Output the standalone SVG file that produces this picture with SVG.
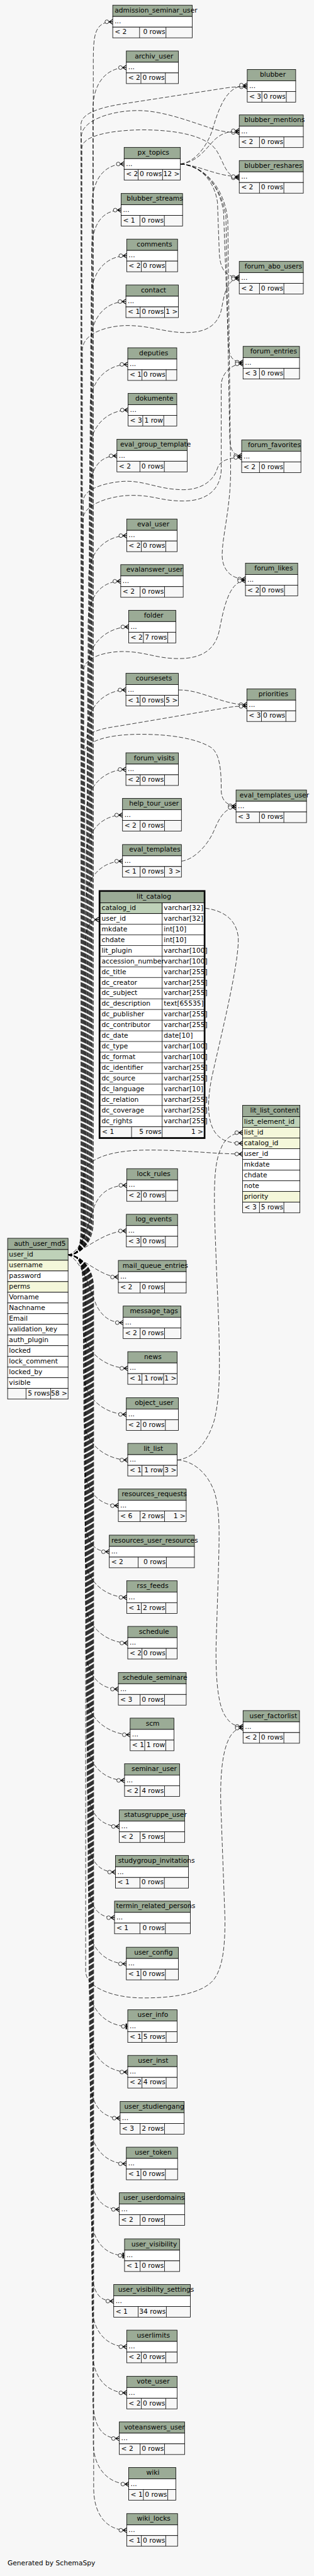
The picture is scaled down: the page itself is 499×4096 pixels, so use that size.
<svg xmlns="http://www.w3.org/2000/svg" width="499" height="4096" viewBox="0 0 499 4096">
<style>
text{font-family:"DejaVu Sans","Liberation Sans",sans-serif;font-size:14.3px;fill:#000}
.h{fill:#9bab96;stroke:#000;stroke-width:1.1}
.r{fill:#fff;stroke:#000;stroke-width:1.1}
.f{fill:#f7f7f7;stroke:#000;stroke-width:1.1}
.pk{fill:#bed1b8;stroke:#000;stroke-width:1.1}
.ix{fill:#f4f7da;stroke:#000;stroke-width:1.1}
.s{stroke:#000;stroke-width:1.1;fill:none}
.e{text-anchor:end}
.c{fill:none;stroke:#000;stroke-width:1;stroke-dasharray:9 4;marker-end:url(#cr)}
.t{fill:none;stroke:#000;stroke-width:1;stroke-dasharray:9 4;marker-end:url(#te)}
</style>
<defs>
<marker id="cr" markerUnits="userSpaceOnUse" orient="auto" refX="0" refY="0" markerWidth="30" markerHeight="20" viewBox="-20 -10 30 20" overflow="visible">
<path d="M-8,0L0,-5M-8,0L0,5M-8,0L0,0" fill="none" stroke="#000" stroke-width="1.5"/>
<circle cx="-12.5" cy="0" r="4" fill="#f7f7f7" stroke="#000" stroke-width="1"/>
</marker>
<marker id="te" markerUnits="userSpaceOnUse" orient="auto" refX="0" refY="0" markerWidth="30" markerHeight="20" viewBox="-20 -10 30 20" overflow="visible">
<rect x="-4.5" y="-6" width="3" height="12" fill="#000"/>
<circle cx="-9.5" cy="0" r="4" fill="#f7f7f7" stroke="#000" stroke-width="1"/>
</marker>
</defs>
<rect width="499" height="4096" fill="#f7f7f7"/>
<g transform="scale(0.748)">
<g id="connectors">
<path class="c" d="M144.6,2667.7C170,2667.7 198.2,2642.7 198.2,2597.7L198.2,136.4C198.2,76.4 199.5,46.35 239.5,46.35"/>
<path class="c" d="M144.6,2667.7C170,2667.7 197.3,2642.7 197.3,2597.7L197.3,233.7C197.3,173.7 228.4,143.65 268.4,143.65"/>
<path class="c" d="M144.6,2667.7C170,2667.7 195.4,2642.7 195.4,2597.7L195.4,438.7C195.4,378.7 223.7,348.65 263.7,348.65"/>
<path class="c" d="M144.6,2667.7C170,2667.7 194.5,2642.7 194.5,2597.7L194.5,536.7C194.5,476.7 217.3,446.65 257.3,446.65"/>
<path class="c" d="M144.6,2667.7C170,2667.7 193.6,2642.7 193.6,2597.7L193.6,633.7C193.6,573.7 229.2,543.65 269.2,543.65"/>
<path class="c" d="M144.6,2667.7C170,2667.7 192.7,2642.7 192.7,2597.7L192.7,731.1C192.7,671.1 227.5,641.05 267.5,641.05"/>
<path class="c" d="M144.6,2667.7C170,2667.7 191.5,2642.7 191.5,2597.7L191.5,864.7C191.5,804.7 231.4,774.65 271.4,774.65"/>
<path class="c" d="M144.6,2667.7C170,2667.7 190.6,2642.7 190.6,2597.7L190.6,961.7C190.6,901.7 232.2,871.65 272.2,871.65"/>
<path class="c" d="M144.6,2667.7C170,2667.7 189.7,2642.7 189.7,2597.7L189.7,1059.1C189.7,999.1 208.4,969.05 248.4,969.05"/>
<path class="c" d="M144.6,2667.7C170,2667.7 188.1,2642.7 188.1,2597.7L188.1,1228.7C188.1,1168.7 229.2,1138.65 269.2,1138.65"/>
<path class="c" d="M144.6,2667.7C170,2667.7 187.2,2642.7 187.2,2597.7L187.2,1325.7C187.2,1265.7 216.5,1235.65 256.5,1235.65"/>
<path class="c" d="M144.6,2667.7C170,2667.7 186.3,2642.7 186.3,2597.7L186.3,1422.7C186.3,1362.7 233.5,1332.65 273.5,1332.65"/>
<path class="c" d="M144.6,2667.7C170,2667.7 185.1,2642.7 185.1,2597.7L185.1,1556.7C185.1,1496.7 227.5,1466.65 267.5,1466.65"/>
<path class="c" d="M144.6,2667.7C170,2667.7 183.5,2642.7 183.5,2597.7L183.5,1725.7C183.5,1665.7 227.5,1635.65 267.5,1635.65"/>
<path class="c" d="M144.6,2667.7C170,2667.7 182.6,2642.7 182.6,2597.7L182.6,1822.7C182.6,1762.7 220.3,1732.65 260.3,1732.65"/>
<path class="c" d="M144.6,2667.7C170,2667.7 181.7,2642.7 181.7,2597.7L181.7,1920.7C181.7,1860.7 220.3,1830.65 260.3,1830.65"/>
<path class="c" d="M144.6,2667.7C170,2667.7 180.6,2642.7 180.6,2597.7L180.6,2010C180.6,1975 190,1955 209.7,1955"/>
<path class="c" d="M144.6,2667.7C175,2660 188,2600 200,2565C212,2535 235,2519.65 269.2,2519.65"/>
<path class="c" d="M144.6,2667.7C180,2660 220,2616.65 268.4,2616.65"/>
<path class="c" d="M144.6,2667.7C180,2675 215,2714.65 251.4,2714.65"/>
<path class="c" d="M144.6,2667.7C175,2680 190,2740 205,2775C218,2800 235,2811.65 261.6,2811.65"/>
<path class="c" d="M144.6,2667.7C170,2667.7 176.2,2692.7 176.2,2737.7L176.2,2818.7C176.2,2878.7 231.4,2908.65 271.4,2908.65"/>
<path class="c" d="M144.6,2667.7C170,2667.7 177.1,2692.7 177.1,2737.7L177.1,2916.7C177.1,2976.7 228.4,3006.65 268.4,3006.65"/>
<path class="c" d="M144.6,2667.7C170,2667.7 178,2692.7 178,2737.7L178,3013.7C178,3073.7 231.4,3103.65 271.4,3103.65"/>
<path class="c" d="M144.6,2667.7C170,2667.7 178.9,2692.7 178.9,2737.7L178.9,3110.7C178.9,3170.7 211.4,3200.65 251.4,3200.65"/>
<path class="c" d="M144.6,2667.7C170,2667.7 179.8,2692.7 179.8,2737.7L179.8,3208.7C179.8,3268.7 192.2,3298.65 232.2,3298.65"/>
<path class="c" d="M144.6,2667.7C170,2667.7 180.7,2692.7 180.7,2737.7L180.7,3305.7C180.7,3365.7 229.2,3395.65 269.2,3395.65"/>
<path class="c" d="M144.6,2667.7C170,2667.7 181.6,2692.7 181.6,2737.7L181.6,3402.7C181.6,3462.7 231.4,3492.65 271.4,3492.65"/>
<path class="c" d="M144.6,2667.7C170,2667.7 182.5,2692.7 182.5,2737.7L182.5,3500.7C182.5,3560.7 211.4,3590.65 251.4,3590.65"/>
<path class="c" d="M144.6,2667.7C170,2667.7 183.4,2692.7 183.4,2737.7L183.4,3597.7C183.4,3657.7 236.5,3687.65 276.5,3687.65"/>
<path class="c" d="M144.6,2667.7C170,2667.7 184.3,2692.7 184.3,2737.7L184.3,3694.7C184.3,3754.7 224.6,3784.65 264.6,3784.65"/>
<path class="c" d="M144.6,2667.7C170,2667.7 185.2,2692.7 185.2,2737.7L185.2,3792.7C185.2,3852.7 213.5,3882.65 253.5,3882.65"/>
<path class="c" d="M144.6,2667.7C170,2667.7 186.1,2692.7 186.1,2737.7L186.1,3889.7C186.1,3949.7 205.4,3979.65 245.4,3979.65"/>
<path class="c" d="M144.6,2667.7C170,2667.7 187,2692.7 187,2737.7L187,3986.7C187,4046.7 203.3,4076.65 243.3,4076.65"/>
<path class="c" d="M144.6,2667.7C170,2667.7 187.9,2692.7 187.9,2737.7L187.9,4084.7C187.9,4144.7 228.4,4174.65 268.4,4174.65"/>
<path class="t" d="M144.6,2667.7C170,2667.7 189.1,2692.7 189.1,2737.7L189.1,4217.7C189.1,4277.7 231.4,4307.65 271.4,4307.65"/>
<path class="c" d="M144.6,2667.7C170,2667.7 190,2692.7 190,2737.7L190,4314.7C190,4374.7 231.4,4404.65 271.4,4404.65"/>
<path class="c" d="M144.6,2667.7C170,2667.7 190.9,2692.7 190.9,2737.7L190.9,4412.7C190.9,4472.7 215.2,4502.65 255.2,4502.65"/>
<path class="c" d="M144.6,2667.7C170,2667.7 191.8,2692.7 191.8,2737.7L191.8,4509.7C191.8,4569.7 228.4,4599.65 268.4,4599.65"/>
<path class="c" d="M144.6,2667.7C170,2667.7 192.7,2692.7 192.7,2737.7L192.7,4606.7C192.7,4666.7 213.5,4696.65 253.5,4696.65"/>
<path class="t" d="M144.6,2667.7C170,2667.7 193.6,2692.7 193.6,2737.7L193.6,4704.7C193.6,4764.7 224.6,4794.65 264.6,4794.65"/>
<path class="c" d="M144.6,2667.7C170,2667.7 194.5,2692.7 194.5,2737.7L194.5,4801.7C194.5,4861.7 201.6,4891.65 241.6,4891.65"/>
<path class="c" d="M144.6,2667.7C170,2667.7 195.4,2692.7 195.4,2737.7L195.4,4898.7C195.4,4958.7 229.2,4988.65 269.2,4988.65"/>
<path class="c" d="M144.6,2667.7C170,2667.7 196.3,2692.7 196.3,2737.7L196.3,4996.7C196.3,5056.7 229.2,5086.65 269.2,5086.65"/>
<path class="c" d="M144.6,2667.7C170,2667.7 197.2,2692.7 197.2,2737.7L197.2,5093.7C197.2,5153.7 213.5,5183.65 253.5,5183.65"/>
<path class="c" d="M144.6,2667.7C170,2667.7 198.1,2692.7 198.1,2737.7L198.1,5190.7C198.1,5250.7 233.5,5280.65 273.5,5280.65"/>
<path class="c" d="M144.6,2667.7C170,2667.7 199,2692.7 199,2737.7L199,5288.7C199,5348.7 229.2,5378.65 269.2,5378.65"/>
<path class="c" d="M144.6,2667.7C170,2667.7 172,2642.7 172,2597.7L172,265C172,240 215,228 260,221L480,187C500,184 510,184.5 525.3,184.5"/>
<path class="c" d="M383.2,348.65C410,345 435,320 450,280C465,230 480,181 525.3,181"/>
<path class="c" d="M144.6,2667.7C170,2667.7 173,2642.7 173,2597.7L173,290C173,258 230,236 290,235C350,234 420,265 460,276C480,281 490,281.5 508.3,281.5"/>
<path class="c" d="M383.2,348.65C420,345 438,315 455,298C468,285 485,278 508.3,278"/>
<path class="c" d="M144.6,2667.7C170,2667.7 174,2642.7 174,2597.7L174,315C174,287 240,277 300,276C380,276 440,290 460,320C476,345 480,378 508.3,378"/>
<path class="c" d="M383.2,348.65C420,350 460,375 508.3,375.5"/>
<path class="c" d="M383.2,348.65C420,350 455,380 462,430L466,540C468,570 478,589.5 508.3,589.5"/>
<path class="c" d="M144.6,2667.7C170,2667.7 175,2642.7 175,2597.7L175,745C175,705 235,692 270,692C320,692 350,707 395,707C440,707 462,690 470,660C476,630 480,592.5 508.3,592.5"/>
<path class="c" d="M383.2,348.65C430,352 465,390 475,450L485,730C486,760 495,770 516.4,770"/>
<path class="c" d="M144.6,2667.7C170,2667.7 176,2642.7 176,2597.7L176,1105C176,1070 240,1053 280,1053C330,1053 340,1065 390,1065C440,1065 468,1040 470,1000L470,820C470,795 490,773.5 516.4,773.5"/>
<path class="c" d="M383.2,348.65C430,352 470,395 480,460L488,930C489,955 495,969 513.4,969"/>
<path class="c" d="M144.6,2667.7C170,2667.7 177,2642.7 177,2597.7L177,1065C177,1035 240,1023 270,1023C310,1023 340,1041 390,1041C430,1041 455,1020 462,995C467,980 485,972.5 513.4,972.5"/>
<path class="c" d="M383.2,348.65C435,352 478,400 484,470L490,1000C490,1080 472,1140 472,1180C472,1210 490,1231 521.5,1231"/>
<path class="c" d="M144.6,2667.7C170,2667.7 178,2642.7 178,2597.7L178,1425C178,1395 230,1385 260,1385C310,1385 330,1400 380,1400C430,1400 458,1380 466,1340C474,1300 485,1234.5 521.5,1234.5"/>
<path class="c" d="M379,1466.65C430,1466 470,1498 524.5,1498"/>
<path class="c" d="M144.6,2667.7C170,2667.7 179,2642.7 179,2597.7L179,1580C179,1555 220,1548 255,1543L490,1503C505,1501 512,1501.5 524.5,1501.5"/>
<path class="c" d="M144.6,2667.7C170,2667.7 180,2642.7 180,2597.7L180,1600C180,1575 230,1562 290,1561C360,1560 420,1570 450,1590C468,1605 470,1640 470,1680C470,1700 482,1713 501.5,1713"/>
<path class="c" d="M385.4,1830.65C410,1828 440,1800 455,1765C465,1740 478,1716.5 501.5,1716.5"/>
<path class="c" d="M376.4,3103.65C410,3100 440,3070 455,3020C470,2960 468,2880 460,2700C455,2560 450,2480 470,2440C478,2420 495,2407.75 515.5,2407.75"/>
<path class="c" d="M436,1930.6C470,1935 500,1950 506,1990C510,2040 470,2200 450,2290C438,2350 440,2400 470,2420C480,2427 495,2430.45 515.5,2430.45"/>
<path class="c" d="M144.6,2667.7C170,2667.7 178,2642.7 178,2597.7L178,2500C178,2465 230,2447 300,2445C380,2443 450,2453.15 515.5,2453.15"/>
<path class="c" d="M376.4,3103.65C410,3105 440,3130 455,3170C468,3210 466,3260 464,3340L459,3500C458,3580 465,3630 480,3650C490,3665 500,3670 516.4,3670"/>
<path class="c" d="M144.6,2667.7C170,2667.7 182,2692.7 182,2737.7L182,4190C182,4225 240,4246 298,4247C360,4248 430,4240 455,4207C475,4180 478,4130 478,4080L470,3860C466,3780 470,3673.5 516.4,3673.5"/>
</g>

<g id="admission_seminar_user" transform="translate(239.5,11)"><rect class="h" width="168.8" height="24"/><rect class="r" y="24" width="168.8" height="22.7"/><rect class="f" y="46.7" width="168.8" height="22.7"/><path class="s" d="M57,46.7V69.4M113.1,46.7V69.4"/><text x="4.2" y="15.5">admission_seminar_user</text><text x="4" y="39">...</text><text x="4" y="61.7">&lt; 2</text><text class="e" x="111.6" y="61.7">0 rows</text></g>
<g id="archiv_user" transform="translate(268.4,108.3)"><rect class="h" width="110.6" height="24"/><rect class="r" y="24" width="110.6" height="22.7"/><rect class="f" y="46.7" width="110.6" height="22.7"/><path class="s" d="M31,46.7V69.4M82.9,46.7V69.4"/><text x="17.9" y="15.5">archiv_user</text><text x="4" y="39">...</text><text x="4" y="61.7">&lt; 2</text><text class="e" x="81.4" y="61.7">0 rows</text></g>
<g id="px_topics" transform="translate(263.7,313.3)"><rect class="h" width="119.5" height="24"/><rect class="r" y="24" width="119.5" height="22.7"/><rect class="f" y="46.7" width="119.5" height="22.7"/><path class="s" d="M29.8,46.7V69.4M81.7,46.7V69.4"/><text x="28.5" y="15.5">px_topics</text><text x="4" y="39">...</text><text x="4" y="61.7">&lt; 2</text><text class="e" x="80.2" y="61.7">0 rows</text><text class="e" x="118" y="61.7">12 &gt;</text></g>
<g id="blubber_streams" transform="translate(257.3,411.3)"><rect class="h" width="130.6" height="24"/><rect class="r" y="24" width="130.6" height="22.7"/><rect class="f" y="46.7" width="130.6" height="22.7"/><path class="s" d="M40,46.7V69.4M91.9,46.7V69.4"/><text x="11.9" y="15.5">blubber_streams</text><text x="4" y="39">...</text><text x="4" y="61.7">&lt; 1</text><text class="e" x="90.4" y="61.7">0 rows</text></g>
<g id="comments" transform="translate(269.2,508.3)"><rect class="h" width="108.1" height="24"/><rect class="r" y="24" width="108.1" height="22.7"/><rect class="f" y="46.7" width="108.1" height="22.7"/><path class="s" d="M31.1,46.7V69.4M83,46.7V69.4"/><text x="21.3" y="15.5">comments</text><text x="4" y="39">...</text><text x="4" y="61.7">&lt; 2</text><text class="e" x="81.5" y="61.7">0 rows</text></g>
<g id="contact" transform="translate(267.5,605.7)"><rect class="h" width="111.5" height="24"/><rect class="r" y="24" width="111.5" height="22.7"/><rect class="f" y="46.7" width="111.5" height="22.7"/><path class="s" d="M30.2,46.7V69.4M82.1,46.7V69.4"/><text x="31.9" y="15.5">contact</text><text x="4" y="39">...</text><text x="4" y="61.7">&lt; 1</text><text class="e" x="80.6" y="61.7">0 rows</text><text class="e" x="110" y="61.7">1 &gt;</text></g>
<g id="deputies" transform="translate(271.4,739.3)"><rect class="h" width="104.2" height="24"/><rect class="r" y="24" width="104.2" height="22.7"/><rect class="f" y="46.7" width="104.2" height="22.7"/><path class="s" d="M30.2,46.7V69.4M81.6,46.7V69.4"/><text x="24.2" y="15.5">deputies</text><text x="4" y="39">...</text><text x="4" y="61.7">&lt; 1</text><text class="e" x="80.1" y="61.7">0 rows</text></g>
<g id="dokumente" transform="translate(272.2,836.3)"><rect class="h" width="103.4" height="24"/><rect class="r" y="24" width="103.4" height="22.7"/><rect class="f" y="46.7" width="103.4" height="22.7"/><path class="s" d="M31.1,46.7V69.4M75.7,46.7V69.4"/><text x="15.3" y="15.5">dokumente</text><text x="4" y="39">...</text><text x="4" y="61.7">&lt; 3</text><text class="e" x="74.2" y="61.7">1 row</text></g>
<g id="eval_group_template" transform="translate(248.4,933.7)"><rect class="h" width="149.3" height="24"/><rect class="r" y="24" width="149.3" height="22.7"/><rect class="f" y="46.7" width="149.3" height="22.7"/><path class="s" d="M48.9,46.7V69.4M100.8,46.7V69.4"/><text x="6.8" y="15.5">eval_group_template</text><text x="4" y="39">...</text><text x="4" y="61.7">&lt; 2</text><text class="e" x="99.3" y="61.7">0 rows</text></g>
<g id="eval_user" transform="translate(269.2,1103.3)"><rect class="h" width="107.2" height="24"/><rect class="r" y="24" width="107.2" height="22.7"/><rect class="f" y="46.7" width="107.2" height="22.7"/><path class="s" d="M31.1,46.7V69.4M83,46.7V69.4"/><text x="22.2" y="15.5">eval_user</text><text x="4" y="39">...</text><text x="4" y="61.7">&lt; 2</text><text class="e" x="81.5" y="61.7">0 rows</text></g>
<g id="evalanswer_user" transform="translate(256.5,1200.3)"><rect class="h" width="132.7" height="24"/><rect class="r" y="24" width="132.7" height="22.7"/><rect class="f" y="46.7" width="132.7" height="22.7"/><path class="s" d="M41.2,46.7V69.4M93.1,46.7V69.4"/><text x="11.9" y="15.5">evalanswer_user</text><text x="4" y="39">...</text><text x="4" y="61.7">&lt; 2</text><text class="e" x="91.6" y="61.7">0 rows</text></g>
<g id="folder" transform="translate(273.5,1297.3)"><rect class="h" width="100" height="24"/><rect class="r" y="24" width="100" height="22.7"/><rect class="f" y="46.7" width="100" height="22.7"/><path class="s" d="M31.1,46.7V69.4M82.9,46.7V69.4"/><text x="32.3" y="15.5">folder</text><text x="4" y="39">...</text><text x="4" y="61.7">&lt; 2</text><text class="e" x="81.4" y="61.7">7 rows</text></g>
<g id="coursesets" transform="translate(267.5,1431.3)"><rect class="h" width="111.5" height="24"/><rect class="r" y="24" width="111.5" height="22.7"/><rect class="f" y="46.7" width="111.5" height="22.7"/><path class="s" d="M30.2,46.7V69.4M82.1,46.7V69.4"/><text x="20.9" y="15.5">coursesets</text><text x="4" y="39">...</text><text x="4" y="61.7">&lt; 1</text><text class="e" x="80.6" y="61.7">0 rows</text><text class="e" x="110" y="61.7">5 &gt;</text></g>
<g id="forum_visits" transform="translate(267.5,1600.3)"><rect class="h" width="111.5" height="24"/><rect class="r" y="24" width="111.5" height="22.7"/><rect class="f" y="46.7" width="111.5" height="22.7"/><path class="s" d="M30.2,46.7V69.4M82.1,46.7V69.4"/><text x="17.1" y="15.5">forum_visits</text><text x="4" y="39">...</text><text x="4" y="61.7">&lt; 2</text><text class="e" x="80.6" y="61.7">0 rows</text></g>
<g id="help_tour_user" transform="translate(260.3,1697.3)"><rect class="h" width="125.1" height="24"/><rect class="r" y="24" width="125.1" height="22.7"/><rect class="f" y="46.7" width="125.1" height="22.7"/><path class="s" d="M37.4,46.7V69.4M89.3,46.7V69.4"/><text x="14" y="15.5">help_tour_user</text><text x="4" y="39">...</text><text x="4" y="61.7">&lt; 2</text><text class="e" x="87.8" y="61.7">0 rows</text></g>
<g id="eval_templates" transform="translate(260.3,1795.3)"><rect class="h" width="125.1" height="24"/><rect class="r" y="24" width="125.1" height="22.7"/><rect class="f" y="46.7" width="125.1" height="22.7"/><path class="s" d="M37.4,46.7V69.4M89.3,46.7V69.4"/><text x="14" y="15.5">eval_templates</text><text x="4" y="39">...</text><text x="4" y="61.7">&lt; 1</text><text class="e" x="87.8" y="61.7">0 rows</text><text class="e" x="123.6" y="61.7">3 &gt;</text></g>

<g id="lit_catalog" transform="translate(212.7,1895.3)">
<rect class="h" width="220.7" height="24"/>
<rect class="r" y="24" width="220.7" height="476"/>
<rect class="pk" y="24" width="131.8" height="22.67"/>
<path class="s" d="M131.8,24V522.7M0,46.67H220.7M0,69.33H220.7M0,92H220.7M0,114.67H220.7M0,137.33H220.7M0,160H220.7M0,182.67H220.7M0,205.33H220.7M0,228H220.7M0,250.67H220.7M0,273.33H220.7M0,296H220.7M0,318.67H220.7M0,341.33H220.7M0,364H220.7M0,386.67H220.7M0,409.33H220.7M0,432H220.7M0,454.67H220.7M0,477.33H220.7"/>
<rect class="f" y="500" width="220.7" height="22.7"/>
<path class="s" d="M66.8,500V522.7M131.8,500V522.7"/>
<rect x="-1.5" y="-1.5" width="223.7" height="525.7" fill="none" stroke="#000" stroke-width="3"/>
<text x="77.4" y="15.5">lit_catalog</text>
<text x="3.3" y="39">catalog_id</text><text x="135.3" y="39">varchar[32]</text>
<text x="3.3" y="61.67">user_id</text><text x="135.3" y="61.67">varchar[32]</text>
<text x="3.3" y="84.33">mkdate</text><text x="135.3" y="84.33">int[10]</text>
<text x="3.3" y="107">chdate</text><text x="135.3" y="107">int[10]</text>
<text x="3.3" y="129.67">lit_plugin</text><text x="135.3" y="129.67">varchar[100]</text>
<text x="3.3" y="152.33">accession_number</text><text x="135.3" y="152.33">varchar[100]</text>
<text x="3.3" y="175">dc_title</text><text x="135.3" y="175">varchar[255]</text>
<text x="3.3" y="197.67">dc_creator</text><text x="135.3" y="197.67">varchar[255]</text>
<text x="3.3" y="220.33">dc_subject</text><text x="135.3" y="220.33">varchar[255]</text>
<text x="3.3" y="243">dc_description</text><text x="135.3" y="243">text[65535]</text>
<text x="3.3" y="265.67">dc_publisher</text><text x="135.3" y="265.67">varchar[255]</text>
<text x="3.3" y="288.33">dc_contributor</text><text x="135.3" y="288.33">varchar[255]</text>
<text x="3.3" y="311">dc_date</text><text x="135.3" y="311">date[10]</text>
<text x="3.3" y="333.67">dc_type</text><text x="135.3" y="333.67">varchar[100]</text>
<text x="3.3" y="356.33">dc_format</text><text x="135.3" y="356.33">varchar[100]</text>
<text x="3.3" y="379">dc_identifier</text><text x="135.3" y="379">varchar[255]</text>
<text x="3.3" y="401.67">dc_source</text><text x="135.3" y="401.67">varchar[255]</text>
<text x="3.3" y="424.33">dc_language</text><text x="135.3" y="424.33">varchar[10]</text>
<text x="3.3" y="447">dc_relation</text><text x="135.3" y="447">varchar[255]</text>
<text x="3.3" y="469.67">dc_coverage</text><text x="135.3" y="469.67">varchar[255]</text>
<text x="3.3" y="492.33">dc_rights</text><text x="135.3" y="492.33">varchar[255]</text>
<text x="4" y="515">&lt; 1</text><text class="e" x="130.3" y="515">5 rows</text><text class="e" x="219.2" y="515">1 &gt;</text>
</g>

<g id="lock_rules" transform="translate(269.2,2484.3)"><rect class="h" width="108.1" height="24"/><rect class="r" y="24" width="108.1" height="22.7"/><rect class="f" y="46.7" width="108.1" height="22.7"/><path class="s" d="M31.1,46.7V69.4M83,46.7V69.4"/><text x="21.7" y="15.5">lock_rules</text><text x="4" y="39">...</text><text x="4" y="61.7">&lt; 2</text><text class="e" x="81.5" y="61.7">0 rows</text></g>
<g id="log_events" transform="translate(268.4,2581.3)"><rect class="h" width="108.9" height="24"/><rect class="r" y="24" width="108.9" height="22.7"/><rect class="f" y="46.7" width="108.9" height="22.7"/><path class="s" d="M31,46.7V69.4M82.9,46.7V69.4"/><text x="19.6" y="15.5">log_events</text><text x="4" y="39">...</text><text x="4" y="61.7">&lt; 3</text><text class="e" x="81.4" y="61.7">0 rows</text></g>
<g id="mail_queue_entries" transform="translate(251.4,2679.3)"><rect class="h" width="144.2" height="24"/><rect class="r" y="24" width="144.2" height="22.7"/><rect class="f" y="46.7" width="144.2" height="22.7"/><path class="s" d="M46.3,46.7V69.4M98.2,46.7V69.4"/><text x="8.9" y="15.5">mail_queue_entries</text><text x="4" y="39">...</text><text x="4" y="61.7">&lt; 2</text><text class="e" x="96.7" y="61.7">0 rows</text></g>
<g id="message_tags" transform="translate(261.6,2776.3)"><rect class="h" width="122.9" height="24"/><rect class="r" y="24" width="122.9" height="22.7"/><rect class="f" y="46.7" width="122.9" height="22.7"/><path class="s" d="M36.1,46.7V69.4M88,46.7V69.4"/><text x="14.4" y="15.5">message_tags</text><text x="4" y="39">...</text><text x="4" y="61.7">&lt; 2</text><text class="e" x="86.5" y="61.7">0 rows</text></g>
<g id="news" transform="translate(271.4,2873.3)"><rect class="h" width="105" height="24"/><rect class="r" y="24" width="105" height="22.7"/><rect class="f" y="46.7" width="105" height="22.7"/><path class="s" d="M30.2,46.7V69.4M76.1,46.7V69.4"/><text x="34.9" y="15.5">news</text><text x="4" y="39">...</text><text x="4" y="61.7">&lt; 1</text><text class="e" x="74.6" y="61.7">1 row</text><text class="e" x="103.5" y="61.7">1 &gt;</text></g>
<g id="object_user" transform="translate(268.4,2971.3)"><rect class="h" width="110.6" height="24"/><rect class="r" y="24" width="110.6" height="22.7"/><rect class="f" y="46.7" width="110.6" height="22.7"/><path class="s" d="M31,46.7V69.4M82.9,46.7V69.4"/><text x="17.9" y="15.5">object_user</text><text x="4" y="39">...</text><text x="4" y="61.7">&lt; 2</text><text class="e" x="81.4" y="61.7">0 rows</text></g>
<g id="lit_list" transform="translate(271.4,3068.3)"><rect class="h" width="105" height="24"/><rect class="r" y="24" width="105" height="22.7"/><rect class="f" y="46.7" width="105" height="22.7"/><path class="s" d="M30.2,46.7V69.4M76.1,46.7V69.4"/><text x="33.6" y="15.5">lit_list</text><text x="4" y="39">...</text><text x="4" y="61.7">&lt; 1</text><text class="e" x="74.6" y="61.7">1 row</text><text class="e" x="103.5" y="61.7">3 &gt;</text></g>
<g id="resources_requests" transform="translate(251.4,3165.3)"><rect class="h" width="144.2" height="24"/><rect class="r" y="24" width="144.2" height="22.7"/><rect class="f" y="46.7" width="144.2" height="22.7"/><path class="s" d="M46.3,46.7V69.4M98.2,46.7V69.4"/><text x="7.2" y="15.5">resources_requests</text><text x="4" y="39">...</text><text x="4" y="61.7">&lt; 6</text><text class="e" x="96.7" y="61.7">2 rows</text><text class="e" x="142.7" y="61.7">1 &gt;</text></g>
<g id="resources_user_resources" transform="translate(232.2,3263.3)"><rect class="h" width="180.8" height="24"/><rect class="r" y="24" width="180.8" height="22.7"/><rect class="f" y="46.7" width="180.8" height="22.7"/><path class="s" d="M61.3,46.7V69.4M121.3,46.7V69.4"/><text x="4.3" y="15.5">resources_user_resources</text><text x="4" y="39">...</text><text x="4" y="61.7">&lt; 2</text><text class="e" x="119.8" y="61.7">0 rows</text></g>
<g id="rss_feeds" transform="translate(269.2,3360.3)"><rect class="h" width="107.2" height="24"/><rect class="r" y="24" width="107.2" height="22.7"/><rect class="f" y="46.7" width="107.2" height="22.7"/><path class="s" d="M31.1,46.7V69.4M83,46.7V69.4"/><text x="21.7" y="15.5">rss_feeds</text><text x="4" y="39">...</text><text x="4" y="61.7">&lt; 1</text><text class="e" x="81.5" y="61.7">2 rows</text></g>
<g id="schedule" transform="translate(271.4,3457.3)"><rect class="h" width="105" height="24"/><rect class="r" y="24" width="105" height="22.7"/><rect class="f" y="46.7" width="105" height="22.7"/><path class="s" d="M30.2,46.7V69.4M81.6,46.7V69.4"/><text x="23.8" y="15.5">schedule</text><text x="4" y="39">...</text><text x="4" y="61.7">&lt; 2</text><text class="e" x="80.1" y="61.7">0 rows</text></g>
<g id="schedule_seminare" transform="translate(251.4,3555.3)"><rect class="h" width="144.2" height="24"/><rect class="r" y="24" width="144.2" height="22.7"/><rect class="f" y="46.7" width="144.2" height="22.7"/><path class="s" d="M46.3,46.7V69.4M98.2,46.7V69.4"/><text x="8.9" y="15.5">schedule_seminare</text><text x="4" y="39">...</text><text x="4" y="61.7">&lt; 3</text><text class="e" x="96.7" y="61.7">0 rows</text></g>
<g id="scm" transform="translate(276.5,3652.3)"><rect class="h" width="93.1" height="24"/><rect class="r" y="24" width="93.1" height="22.7"/><rect class="f" y="46.7" width="93.1" height="22.7"/><path class="s" d="M31,46.7V69.4M75.7,46.7V69.4"/><text x="33.2" y="15.5">scm</text><text x="4" y="39">...</text><text x="4" y="61.7">&lt; 1</text><text class="e" x="74.2" y="61.7">1 row</text></g>
<g id="seminar_user" transform="translate(264.6,3749.3)"><rect class="h" width="116.9" height="24"/><rect class="r" y="24" width="116.9" height="22.7"/><rect class="f" y="46.7" width="116.9" height="22.7"/><path class="s" d="M33.1,46.7V69.4M85,46.7V69.4"/><text x="14.9" y="15.5">seminar_user</text><text x="4" y="39">...</text><text x="4" y="61.7">&lt; 2</text><text class="e" x="83.5" y="61.7">4 rows</text></g>
<g id="statusgruppe_user" transform="translate(253.5,3847.3)"><rect class="h" width="138.7" height="24"/><rect class="r" y="24" width="138.7" height="22.7"/><rect class="f" y="46.7" width="138.7" height="22.7"/><path class="s" d="M44.2,46.7V69.4M96.1,46.7V69.4"/><text x="10.2" y="15.5">statusgruppe_user</text><text x="4" y="39">...</text><text x="4" y="61.7">&lt; 2</text><text class="e" x="94.6" y="61.7">5 rows</text></g>
<g id="studygroup_invitations" transform="translate(245.4,3944.3)"><rect class="h" width="154.9" height="24"/><rect class="r" y="24" width="154.9" height="22.7"/><rect class="f" y="46.7" width="154.9" height="22.7"/><path class="s" d="M51.9,46.7V69.4M103.8,46.7V69.4"/><text x="5.6" y="15.5">studygroup_invitations</text><text x="4" y="39">...</text><text x="4" y="61.7">&lt; 1</text><text class="e" x="102.3" y="61.7">0 rows</text></g>
<g id="termin_related_persons" transform="translate(243.3,4041.3)"><rect class="h" width="161.2" height="24"/><rect class="r" y="24" width="161.2" height="22.7"/><rect class="f" y="46.7" width="161.2" height="22.7"/><path class="s" d="M54,46.7V69.4M108,46.7V69.4"/><text x="3.4" y="15.5">termin_related_persons</text><text x="4" y="39">...</text><text x="4" y="61.7">&lt; 1</text><text class="e" x="106.5" y="61.7">0 rows</text></g>
<g id="user_config" transform="translate(268.4,4139.3)"><rect class="h" width="110.6" height="24"/><rect class="r" y="24" width="110.6" height="22.7"/><rect class="f" y="46.7" width="110.6" height="22.7"/><path class="s" d="M31,46.7V69.4M82.9,46.7V69.4"/><text x="16.6" y="15.5">user_config</text><text x="4" y="39">...</text><text x="4" y="61.7">&lt; 1</text><text class="e" x="81.4" y="61.7">0 rows</text></g>
<g id="user_info" transform="translate(271.4,4272.3)"><rect class="h" width="105" height="24"/><rect class="r" y="24" width="105" height="22.7"/><rect class="f" y="46.7" width="105" height="22.7"/><path class="s" d="M30.2,46.7V69.4M81.6,46.7V69.4"/><text x="20.8" y="15.5">user_info</text><text x="4" y="39">...</text><text x="4" y="61.7">&lt; 1</text><text class="e" x="80.1" y="61.7">5 rows</text></g>
<g id="user_inst" transform="translate(271.4,4369.3)"><rect class="h" width="105" height="24"/><rect class="r" y="24" width="105" height="22.7"/><rect class="f" y="46.7" width="105" height="22.7"/><path class="s" d="M30.2,46.7V69.4M81.6,46.7V69.4"/><text x="21.7" y="15.5">user_inst</text><text x="4" y="39">...</text><text x="4" y="61.7">&lt; 2</text><text class="e" x="80.1" y="61.7">4 rows</text></g>
<g id="user_studiengang" transform="translate(255.2,4467.3)"><rect class="h" width="136.1" height="24"/><rect class="r" y="24" width="136.1" height="22.7"/><rect class="f" y="46.7" width="136.1" height="22.7"/><path class="s" d="M42.5,46.7V69.4M94.4,46.7V69.4"/><text x="8.9" y="15.5">user_studiengang</text><text x="4" y="39">...</text><text x="4" y="61.7">&lt; 3</text><text class="e" x="92.9" y="61.7">2 rows</text></g>
<g id="user_token" transform="translate(268.4,4564.3)"><rect class="h" width="108.9" height="24"/><rect class="r" y="24" width="108.9" height="22.7"/><rect class="f" y="46.7" width="108.9" height="22.7"/><path class="s" d="M31,46.7V69.4M82.9,46.7V69.4"/><text x="17.9" y="15.5">user_token</text><text x="4" y="39">...</text><text x="4" y="61.7">&lt; 1</text><text class="e" x="81.4" y="61.7">0 rows</text></g>
<g id="user_userdomains" transform="translate(253.5,4661.3)"><rect class="h" width="138.7" height="24"/><rect class="r" y="24" width="138.7" height="22.7"/><rect class="f" y="46.7" width="138.7" height="22.7"/><path class="s" d="M44.2,46.7V69.4M96.1,46.7V69.4"/><text x="8.5" y="15.5">user_userdomains</text><text x="4" y="39">...</text><text x="4" y="61.7">&lt; 2</text><text class="e" x="94.6" y="61.7">0 rows</text></g>
<g id="user_visibility" transform="translate(264.6,4759.3)"><rect class="h" width="116.9" height="24"/><rect class="r" y="24" width="116.9" height="22.7"/><rect class="f" y="46.7" width="116.9" height="22.7"/><path class="s" d="M33.1,46.7V69.4M85,46.7V69.4"/><text x="14.4" y="15.5">user_visibility</text><text x="4" y="39">...</text><text x="4" y="61.7">&lt; 1</text><text class="e" x="83.5" y="61.7">0 rows</text></g>
<g id="user_visibility_settings" transform="translate(241.6,4856.3)"><rect class="h" width="162.9" height="24"/><rect class="r" y="24" width="162.9" height="22.7"/><rect class="f" y="46.7" width="162.9" height="22.7"/><path class="s" d="M51.9,46.7V69.4M111.9,46.7V69.4"/><text x="9.4" y="15.5">user_visibility_settings</text><text x="4" y="39">...</text><text x="4" y="61.7">&lt; 1</text><text class="e" x="110.4" y="61.7">34 rows</text></g>
<g id="userlimits" transform="translate(269.2,4953.3)"><rect class="h" width="107.2" height="24"/><rect class="r" y="24" width="107.2" height="22.7"/><rect class="f" y="46.7" width="107.2" height="22.7"/><path class="s" d="M31.1,46.7V69.4M83,46.7V69.4"/><text x="21.7" y="15.5">userlimits</text><text x="4" y="39">...</text><text x="4" y="61.7">&lt; 2</text><text class="e" x="81.5" y="61.7">0 rows</text></g>
<g id="vote_user" transform="translate(269.2,5051.3)"><rect class="h" width="107.2" height="24"/><rect class="r" y="24" width="107.2" height="22.7"/><rect class="f" y="46.7" width="107.2" height="22.7"/><path class="s" d="M31.1,46.7V69.4M83,46.7V69.4"/><text x="21.3" y="15.5">vote_user</text><text x="4" y="39">...</text><text x="4" y="61.7">&lt; 2</text><text class="e" x="81.5" y="61.7">0 rows</text></g>
<g id="voteanswers_user" transform="translate(253.5,5148.3)"><rect class="h" width="138.7" height="24"/><rect class="r" y="24" width="138.7" height="22.7"/><rect class="f" y="46.7" width="138.7" height="22.7"/><path class="s" d="M44.2,46.7V69.4M96.1,46.7V69.4"/><text x="10.2" y="15.5">voteanswers_user</text><text x="4" y="39">...</text><text x="4" y="61.7">&lt; 2</text><text class="e" x="94.6" y="61.7">0 rows</text></g>
<g id="wiki" transform="translate(273.5,5245.3)"><rect class="h" width="100" height="24"/><rect class="r" y="24" width="100" height="22.7"/><rect class="f" y="46.7" width="100" height="22.7"/><path class="s" d="M31.1,46.7V69.4M82.9,46.7V69.4"/><text x="37.4" y="15.5">wiki</text><text x="4" y="39">...</text><text x="4" y="61.7">&lt; 1</text><text class="e" x="81.4" y="61.7">0 rows</text></g>
<g id="wiki_locks" transform="translate(269.2,5343.3)"><rect class="h" width="108.1" height="24"/><rect class="r" y="24" width="108.1" height="22.7"/><rect class="f" y="46.7" width="108.1" height="22.7"/><path class="s" d="M31.1,46.7V69.4M83,46.7V69.4"/><text x="21.7" y="15.5">wiki_locks</text><text x="4" y="39">...</text><text x="4" y="61.7">&lt; 1</text><text class="e" x="81.5" y="61.7">0 rows</text></g>

<g id="blubber" transform="translate(525.3,147.7)"><rect class="h" width="102.9" height="24"/><rect class="r" y="24" width="102.9" height="22.7"/><rect class="f" y="46.7" width="102.9" height="22.7"/><path class="s" d="M31.1,46.7V69.4M83,46.7V69.4"/><text x="26.8" y="15.5">blubber</text><text x="4" y="39">...</text><text x="4" y="61.7">&lt; 3</text><text class="e" x="81.5" y="61.7">0 rows</text></g>
<g id="blubber_mentions" transform="translate(508.3,244.3)"><rect class="h" width="136.1" height="24"/><rect class="r" y="24" width="136.1" height="22.7"/><rect class="f" y="46.7" width="136.1" height="22.7"/><path class="s" d="M43,46.7V69.4M94.8,46.7V69.4"/><text x="10.7" y="15.5">blubber_mentions</text><text x="4" y="39">...</text><text x="4" y="61.7">&lt; 2</text><text class="e" x="93.3" y="61.7">0 rows</text></g>
<g id="blubber_reshares" transform="translate(508.3,341.3)"><rect class="h" width="136.1" height="24"/><rect class="r" y="24" width="136.1" height="22.7"/><rect class="f" y="46.7" width="136.1" height="22.7"/><path class="s" d="M43,46.7V69.4M94.8,46.7V69.4"/><text x="10.7" y="15.5">blubber_reshares</text><text x="4" y="39">...</text><text x="4" y="61.7">&lt; 2</text><text class="e" x="93.3" y="61.7">0 rows</text></g>
<g id="forum_abo_users" transform="translate(508.3,555.7)"><rect class="h" width="136.1" height="24"/><rect class="r" y="24" width="136.1" height="22.7"/><rect class="f" y="46.7" width="136.1" height="22.7"/><path class="s" d="M43,46.7V69.4M94.8,46.7V69.4"/><text x="11.5" y="15.5">forum_abo_users</text><text x="4" y="39">...</text><text x="4" y="61.7">&lt; 2</text><text class="e" x="93.3" y="61.7">0 rows</text></g>
<g id="forum_entries" transform="translate(516.4,736.3)"><rect class="h" width="119.9" height="24"/><rect class="r" y="24" width="119.9" height="22.7"/><rect class="f" y="46.7" width="119.9" height="22.7"/><path class="s" d="M34.9,46.7V69.4M86.7,46.7V69.4"/><text x="15.3" y="15.5">forum_entries</text><text x="4" y="39">...</text><text x="4" y="61.7">&lt; 3</text><text class="e" x="85.2" y="61.7">0 rows</text></g>
<g id="forum_favorites" transform="translate(513.4,935.3)"><rect class="h" width="125.9" height="24"/><rect class="r" y="24" width="125.9" height="22.7"/><rect class="f" y="46.7" width="125.9" height="22.7"/><path class="s" d="M37.9,46.7V69.4M89.7,46.7V69.4"/><text x="13.2" y="15.5">forum_favorites</text><text x="4" y="39">...</text><text x="4" y="61.7">&lt; 2</text><text class="e" x="88.2" y="61.7">0 rows</text></g>
<g id="forum_likes" transform="translate(521.5,1197.3)"><rect class="h" width="111" height="24"/><rect class="r" y="24" width="111" height="22.7"/><rect class="f" y="46.7" width="111" height="22.7"/><path class="s" d="M31,46.7V69.4M82.9,46.7V69.4"/><text x="19.1" y="15.5">forum_likes</text><text x="4" y="39">...</text><text x="4" y="61.7">&lt; 2</text><text class="e" x="81.4" y="61.7">0 rows</text></g>
<g id="priorities" transform="translate(524.5,1464.3)"><rect class="h" width="103.7" height="24"/><rect class="r" y="24" width="103.7" height="22.7"/><rect class="f" y="46.7" width="103.7" height="22.7"/><path class="s" d="M31,46.7V69.4M82.9,46.7V69.4"/><text x="24.6" y="15.5">priorities</text><text x="4" y="39">...</text><text x="4" y="61.7">&lt; 3</text><text class="e" x="81.4" y="61.7">0 rows</text></g>
<g id="eval_templates_user" transform="translate(501.5,1679.3)"><rect class="h" width="149.7" height="24"/><rect class="r" y="24" width="149.7" height="22.7"/><rect class="f" y="46.7" width="149.7" height="22.7"/><path class="s" d="M49.8,46.7V69.4M101.6,46.7V69.4"/><text x="7.6" y="15.5">eval_templates_user</text><text x="4" y="39">...</text><text x="4" y="61.7">&lt; 3</text><text class="e" x="100.1" y="61.7">0 rows</text></g>
<g id="user_factorlist" transform="translate(516.4,3636.3)"><rect class="h" width="119.9" height="24"/><rect class="r" y="24" width="119.9" height="22.7"/><rect class="f" y="46.7" width="119.9" height="22.7"/><path class="s" d="M34.9,46.7V69.4M86.7,46.7V69.4"/><text x="13.6" y="15.5">user_factorlist</text><text x="4" y="39">...</text><text x="4" y="61.7">&lt; 2</text><text class="e" x="85.2" y="61.7">0 rows</text></g>

<g id="lit_list_content" transform="translate(515.5,2349.7)">
<rect class="h" width="121.7" height="24"/>
<rect class="pk" y="24" width="121.7" height="22.7"/>
<rect class="ix" y="46.7" width="121.7" height="22.7"/>
<rect class="ix" y="69.4" width="121.7" height="22.7"/>
<rect class="r" y="92.1" width="121.7" height="22.7"/>
<rect class="r" y="114.8" width="121.7" height="22.7"/>
<rect class="r" y="137.5" width="121.7" height="22.7"/>
<rect class="r" y="160.2" width="121.7" height="22.7"/>
<rect class="ix" y="182.9" width="121.7" height="22.7"/>
<rect class="f" y="205.6" width="121.7" height="22.7"/>
<path class="s" d="M35.8,205.6V228.3M87.6,205.6V228.3"/>
<text x="15.8" y="15.5">lit_list_content</text>
<text x="3" y="39">list_element_id</text>
<text x="3" y="61.7">list_id</text>
<text x="3" y="84.4">catalog_id</text>
<text x="3" y="107.1">user_id</text>
<text x="3" y="129.8">mkdate</text>
<text x="3" y="152.5">chdate</text>
<text x="3" y="175.2">note</text>
<text x="3" y="197.9">priority</text>
<text x="4" y="220.6">&lt; 3</text><text class="e" x="86.1" y="220.6">5 rows</text>
</g>

<g id="auth_user_md5" transform="translate(16.2,2632.3)">
<rect class="h" width="128.4" height="24"/>
<rect class="pk" y="24" width="128.4" height="22.7"/>
<rect class="ix" y="46.7" width="128.4" height="22.7"/>
<rect class="r" y="69.4" width="128.4" height="22.7"/>
<rect class="ix" y="92.1" width="128.4" height="22.7"/>
<rect class="r" y="114.8" width="128.4" height="22.7"/>
<rect class="r" y="137.5" width="128.4" height="22.7"/>
<rect class="r" y="160.2" width="128.4" height="22.7"/>
<rect class="r" y="182.9" width="128.4" height="22.7"/>
<rect class="r" y="205.6" width="128.4" height="22.7"/>
<rect class="r" y="228.3" width="128.4" height="22.7"/>
<rect class="r" y="251" width="128.4" height="22.7"/>
<rect class="r" y="273.7" width="128.4" height="22.7"/>
<rect class="r" y="296.4" width="128.4" height="22.7"/>
<rect class="f" y="319.1" width="128.4" height="22.7"/>
<path class="s" d="M39.1,319.1V341.8M91.4,319.1V341.8"/>
<text x="13.6" y="15.5">auth_user_md5</text>
<text x="3" y="39">user_id</text>
<text x="3" y="61.7">username</text>
<text x="3" y="84.4">password</text>
<text x="3" y="107.1">perms</text>
<text x="3" y="129.8">Vorname</text>
<text x="3" y="152.5">Nachname</text>
<text x="3" y="175.2">Email</text>
<text x="3" y="197.9">validation_key</text>
<text x="3" y="220.6">auth_plugin</text>
<text x="3" y="243.3">locked</text>
<text x="3" y="266">lock_comment</text>
<text x="3" y="288.7">locked_by</text>
<text x="3" y="311.4">visible</text>
<text class="e" x="89.9" y="334.1">5 rows</text><text class="e" x="126.9" y="334.1">58 &gt;</text>
</g>

<text x="16" y="5453">Generated by SchemaSpy</text>
</g>
</svg>
